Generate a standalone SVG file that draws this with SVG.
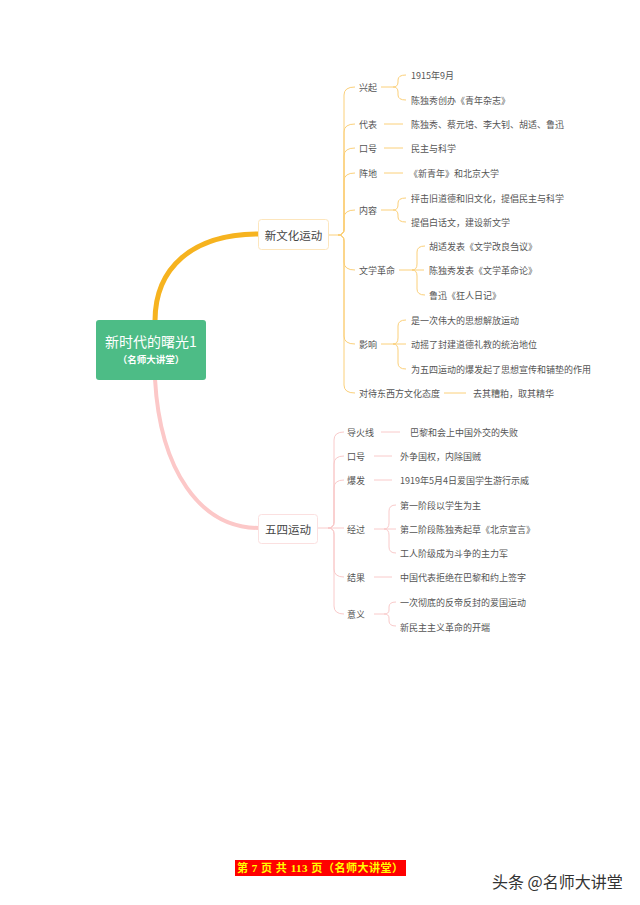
<svg xmlns="http://www.w3.org/2000/svg" width="640" height="905" viewBox="0 0 640 905">
<style>
text{font-family:"Noto Sans CJK SC","Liberation Sans",sans-serif;}
.t{font-size:9px;fill:#555;dominant-baseline:central;}
.o{fill:none;stroke:#fbd07a;stroke-width:1;}
.p{fill:none;stroke:#f9caca;stroke-width:1;}
.main{font-size:11.5px;fill:#444;text-anchor:middle;dominant-baseline:central;}
</style>
<rect width="640" height="905" fill="#ffffff"/>
<g id="connectors">
<path d="M155 321 C155 268 192 234 259 234" fill="none" stroke="#f6b31f" stroke-width="5"/>
<path d="M155 379 C160 470 200 528 259 528" fill="none" stroke="#fcc8c8" stroke-width="4"/>
<path class="o" d="M329 235 L338 235"/>
<path class="o" d="M338 235 Q344 235 344 229 L344 95 Q344 87 355 87"/>
<path class="o" d="M338 235 Q344 235 344 229 L344 132 Q344 124 355 124"/>
<path class="o" d="M338 235 Q344 235 344 229 L344 156 Q344 148 355 148"/>
<path class="o" d="M338 235 Q344 235 344 229 L344 181 Q344 173 355 173"/>
<path class="o" d="M338 235 Q344 235 344 229 L344 218 Q344 210 355 210"/>
<path class="o" d="M338 235 Q344 235 344 241 L344 262 Q344 270 355 270"/>
<path class="o" d="M338 235 Q344 235 344 241 L344 336 Q344 344 355 344"/>
<path class="o" d="M338 235 Q344 235 344 241 L344 385 Q344 393 355 393"/>
<path class="o" d="M381 87 L393 87 Q398 87 398 82 L398 80 Q398 75 406 75"/>
<path class="o" d="M393 87 Q398 87 398 92 L398 95 Q398 100 406 100"/>
<path class="o" d="M384 124 L403 124"/>
<path class="o" d="M384 148 L403 148"/>
<path class="o" d="M384 173 L403 173"/>
<path class="o" d="M381 210 L393 210 Q398 210 398 205 L398 203 Q398 198 406 198"/>
<path class="o" d="M393 210 Q398 210 398 215 L398 217 Q398 222 406 222"/>
<path class="o" d="M399 270 L424 270"/>
<path class="o" d="M412 270 Q417 270 417 264 L417 252 Q417 246 425 246"/>
<path class="o" d="M412 270 Q417 270 417 276 L417 289 Q417 295 425 295"/>
<path class="o" d="M381 344 L406 344"/>
<path class="o" d="M393 344 Q398 344 398 338 L398 326 Q398 320 406 320"/>
<path class="o" d="M393 344 Q398 344 398 350 L398 363 Q398 369 406 369"/>
<path class="o" d="M444 393 L466 393"/>
<path class="p" d="M318 528 L344 528"/>
<path class="p" d="M328 528 Q334 528 334 522 L334 440 Q334 432 344 432"/>
<path class="p" d="M328 528 Q334 528 334 522 L334 464 Q334 456 344 456"/>
<path class="p" d="M328 528 Q334 528 334 522 L334 488 Q334 480 344 480"/>
<path class="p" d="M328 528 Q334 528 334 534 L334 569 Q334 577 344 577"/>
<path class="p" d="M328 528 Q334 528 334 534 L334 606 Q334 614 344 614"/>
<path class="p" d="M381 432 L400 432"/>
<path class="p" d="M374 456 L392 456"/>
<path class="p" d="M374 480 L392 480"/>
<path class="p" d="M374 529 L396 529"/>
<path class="p" d="M384 529 Q389 529 389 523 L389 511 Q389 505 396 505"/>
<path class="p" d="M384 529 Q389 529 389 535 L389 547 Q389 553 396 553"/>
<path class="p" d="M374 577 L392 577"/>
<path class="p" d="M374 614 L384 614 Q389 614 389 610 L389 607 Q389 602 396 602"/>
<path class="p" d="M384 614 Q389 614 389 618 L389 621 Q389 626 396 626"/>
</g>
<g id="root">
<rect x="96" y="320" width="110" height="60" rx="3" fill="#4dbc86"/>
<text x="151" y="341" font-size="14" fill="#ffffff" text-anchor="middle" dominant-baseline="central">新时代的曙光1</text>
<text x="151" y="359" font-size="9.5" font-weight="bold" fill="#ffffff" text-anchor="middle" dominant-baseline="central">（名师大讲堂）</text>
</g>
<g id="node-xinwenhua">
<rect x="258.5" y="219.5" width="70" height="30" rx="3" fill="#ffffff" stroke="#fde6bd"/>
<text class="main" x="293.5" y="235">新文化运动</text>
</g>
<g id="node-wusi">
<rect x="258.5" y="514.5" width="59" height="29" rx="3" fill="#ffffff" stroke="#fbe0e0"/>
<text class="main" x="288" y="529">五四运动</text>
</g>
<g id="b1-children">
<text class="t" x="359" y="87">兴起</text>
<text class="t" x="359" y="124">代表</text>
<text class="t" x="359" y="148">口号</text>
<text class="t" x="359" y="173">阵地</text>
<text class="t" x="359" y="210">内容</text>
<text class="t" x="359" y="270">文学革命</text>
<text class="t" x="359" y="344">影响</text>
<text class="t" x="359" y="393">对待东西方文化态度</text>
</g>
<g id="b1-leaves">
<text class="t" x="411" y="75">1915年9月</text>
<text class="t" x="411" y="100">陈独秀创办《青年杂志》</text>
<text class="t" x="411" y="124">陈独秀、蔡元培、李大钊、胡适、鲁迅</text>
<text class="t" x="411" y="148">民主与科学</text>
<text class="t" x="409" y="173">《新青年》和北京大学</text>
<text class="t" x="411" y="198">抨击旧道德和旧文化，提倡民主与科学</text>
<text class="t" x="411" y="222">提倡白话文，建设新文学</text>
<text class="t" x="429" y="246">胡适发表《文学改良刍议》</text>
<text class="t" x="429" y="270">陈独秀发表《文学革命论》</text>
<text class="t" x="429" y="295">鲁迅《狂人日记》</text>
<text class="t" x="411" y="320">是一次伟大的思想解放运动</text>
<text class="t" x="411" y="344">动摇了封建道德礼教的统治地位</text>
<text class="t" x="411" y="369">为五四运动的爆发起了思想宣传和铺垫的作用</text>
<text class="t" x="473" y="393">去其糟粕，取其精华</text>
</g>
<g id="b2-children">
<text class="t" x="347" y="432">导火线</text>
<text class="t" x="347" y="456">口号</text>
<text class="t" x="347" y="480">爆发</text>
<text class="t" x="347" y="529">经过</text>
<text class="t" x="347" y="577">结果</text>
<text class="t" x="347" y="614">意义</text>
</g>
<g id="b2-leaves">
<text class="t" x="410" y="432">巴黎和会上中国外交的失败</text>
<text class="t" x="400" y="456">外争国权，内除国贼</text>
<text class="t" x="400" y="480">1919年5月4日爱国学生游行示威</text>
<text class="t" x="400" y="505">第一阶段以学生为主</text>
<text class="t" x="400" y="529">第二阶段陈独秀起草《北京宣言》</text>
<text class="t" x="400" y="553">工人阶级成为斗争的主力军</text>
<text class="t" x="400" y="577">中国代表拒绝在巴黎和约上签字</text>
<text class="t" x="400" y="602">一次彻底的反帝反封的爱国运动</text>
<text class="t" x="400" y="627">新民主主义革命的开端</text>
</g>
<g id="footer">
<rect x="235" y="860" width="171" height="16" fill="#ff0000"/>
<text x="237" y="868" font-size="11" font-weight="bold" fill="#ffff00" dominant-baseline="central" textLength="166" lengthAdjust="spacing" style="font-family:'Liberation Serif','Noto Sans CJK SC',serif">第 7 页 共 113 页（名师大讲堂）</text>
<text x="492" y="881" font-size="16" fill="#333333" dominant-baseline="central">头条 @名师大讲堂</text>
</g>
</svg>
